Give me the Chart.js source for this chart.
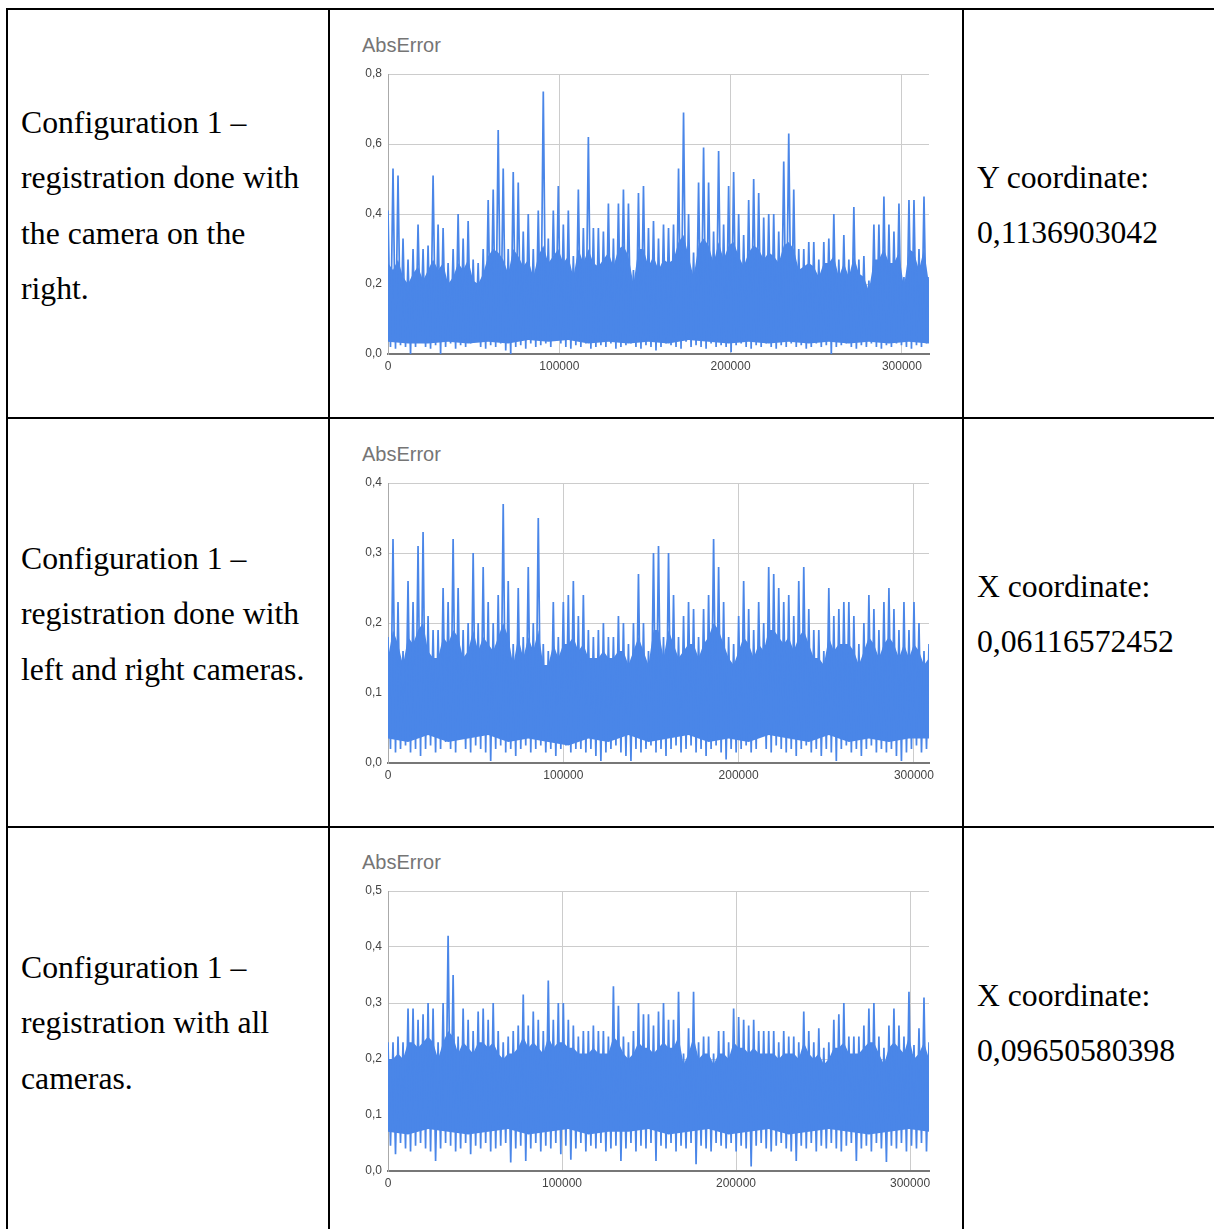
<!DOCTYPE html>
<html>
<head>
<meta charset="utf-8">
<script src="https://cdn.jsdelivr.net/npm/chart.js@4.4.1/dist/chart.umd.min.js"></script>
<style>
  html, body { margin: 0; padding: 0; background: #fff; }
  body { width: 1214px; height: 1229px; position: relative; overflow: hidden; }
  .hl { position: absolute; left: 6px; width: 1220px; height: 2px; background: #000; }
  .vl { position: absolute; top: 8px; width: 2px; height: 1230px; background: #000; }
  .txt { position: absolute; font-family: "Liberation Serif", "Times New Roman", serif;
         font-size: 31.7px; line-height: 55.3px; color: #000; white-space: nowrap; }
  .ttl { position: absolute; left: 362px; font-family: "Liberation Sans", Arial, sans-serif;
         font-size: 20px; line-height: 20px; color: #757575; }
  canvas { position: absolute; left: 330px; }
</style>
</head>
<body>
<div class="hl" style="top:8px"></div>
<div class="hl" style="top:417px"></div>
<div class="hl" style="top:826px"></div>
<div class="vl" style="left:6px"></div>
<div class="vl" style="left:328px"></div>
<div class="vl" style="left:962px"></div>

<div class="txt" style="left:21px;top:95px">Configuration 1 –<br>registration done with<br>the camera on the<br>right.</div>
<div class="txt" style="left:977px;top:150px">Y coordinate:<br>0,1136903042</div>
<div class="txt" style="left:21px;top:531px">Configuration 1 –<br>registration done with<br>left and right cameras.</div>
<div class="txt" style="left:977px;top:559px">X coordinate:<br>0,06116572452</div>
<div class="txt" style="left:21px;top:940px">Configuration 1 –<br>registration with all<br>cameras.</div>
<div class="txt" style="left:977px;top:968px">X coordinate:<br>0,09650580398</div>

<div class="ttl" style="top:35px">AbsError</div>
<div class="ttl" style="top:444px">AbsError</div>
<div class="ttl" style="top:852px">AbsError</div>

<canvas id="c1" width="632" height="380" style="top:10px"></canvas>
<canvas id="c2" width="632" height="380" style="top:419px"></canvas>
<canvas id="c3" width="632" height="380" style="top:827px"></canvas>

<script>
// x ticks (sample number) and last sample of each series
const xTicks = [0, 100000, 200000, 300000];
const xMax1 = 315800;
const xMax2 = 308600;
const xMax3 = 310900;

const yTicks1 = [0, 0.2, 0.4, 0.6, 0.8];
const yTicks2 = [0, 0.1, 0.2, 0.3, 0.4];
const yTicks3 = [0, 0.1, 0.2, 0.3, 0.4, 0.5];

// chart 1 - camera on the right: peak of each stretch, the dip after it,
// and the level up to which the stretch is solid
const peaks1 = [
  0.41,0.53,0.51,0.33,0.27,0.30,0.37,0.30,0.31,0.51,
  0.37,0.36,0.26,0.30,0.40,0.33,0.38,0.27,0.26,0.30,
  0.44,0.47,0.64,0.53,0.30,0.52,0.49,0.35,0.40,0.30,
  0.41,0.75,0.33,0.41,0.48,0.37,0.41,0.28,0.47,0.36,
  0.62,0.36,0.36,0.35,0.43,0.33,0.43,0.47,0.43,0.24,
  0.46,0.48,0.36,0.38,0.33,0.37,0.36,0.37,0.53,0.69,
  0.40,0.29,0.49,0.59,0.49,0.35,0.58,0.37,0.48,0.52,
  0.40,0.34,0.44,0.50,0.46,0.39,0.40,0.40,0.35,0.55,
  0.63,0.47,0.30,0.30,0.32,0.32,0.27,0.32,0.33,0.40,
  0.27,0.34,0.27,0.42,0.27,0.28,0.21,0.37,0.37,0.45,
  0.37,0.35,0.43,0.22,0.44,0.44,0.30,0.45,0.22
];
const floors1 = [
  0.02,0.015,0.025,0.02,0.0,0.02,0.05,0.02,0.015,0.025,
  0.0,0.02,0.03,0.015,0.025,0.02,0.03,0.045,0.02,0.015,
  0.025,0.02,0.03,0.01,0.0,0.02,0.025,0.015,0.03,0.02,
  0.025,0.03,0.02,0.07,0.03,0.02,0.015,0.025,0.02,0.03,
  0.015,0.02,0.025,0.02,0.03,0.015,0.02,0.025,0.03,0.02,
  0.015,0.025,0.02,0.01,0.02,0.03,0.025,0.02,0.015,0.035,
  0.02,0.025,0.02,0.015,0.03,0.02,0.025,0.02,0.005,0.025,
  0.03,0.02,0.015,0.025,0.02,0.03,0.02,0.015,0.025,0.02,
  0.03,0.02,0.025,0.015,0.02,0.03,0.02,0.025,0.0,0.02,
  0.025,0.03,0.02,0.015,0.025,0.02,0.03,0.02,0.015,0.025,
  0.02,0.03,0.025,0.02,0.015,0.025,0.02,0.03
];
const bodyTop1 = [
  0.26,0.24,0.27,0.22,0.20,0.23,0.25,0.21,0.24,0.27,
  0.24,0.26,0.20,0.22,0.26,0.24,0.27,0.21,0.20,0.23,
  0.28,0.30,0.29,0.27,0.23,0.30,0.28,0.25,0.27,0.22,
  0.28,0.31,0.26,0.28,0.30,0.26,0.28,0.22,0.30,0.26,
  0.30,0.26,0.25,0.27,0.29,0.25,0.30,0.31,0.28,0.20,
  0.30,0.30,0.25,0.28,0.24,0.27,0.26,0.27,0.32,0.34,
  0.28,0.22,0.31,0.33,0.31,0.26,0.32,0.27,0.31,0.32,
  0.28,0.25,0.29,0.31,0.30,0.27,0.29,0.28,0.26,0.31,
  0.32,0.30,0.24,0.25,0.26,0.25,0.22,0.26,0.26,0.28,
  0.22,0.26,0.22,0.28,0.23,0.22,0.18,0.27,0.27,0.30,
  0.26,0.26,0.29,0.19,0.30,0.29,0.24,0.30,0.20
];
const bodyLow1 = [0.035,0.03,0.03,0.035,0.03,0.035,0.03,0.04,0.035,0.04,0.03,0.035,0.03,0.035,
                  0.03,0.04,0.035,0.03,0.035,0.03,0.035,0.03,0.035,0.03,0.035,0.03,0.035,0.03];

// chart 2 - left and right cameras
const peaks2 = [
  0.18,0.32,0.23,0.16,0.26,0.23,0.31,0.33,0.21,0.19,
  0.19,0.25,0.23,0.32,0.25,0.19,0.20,0.30,0.20,0.28,
  0.23,0.20,0.24,0.37,0.26,0.17,0.25,0.18,0.28,0.20,
  0.35,0.17,0.16,0.23,0.18,0.23,0.24,0.26,0.21,0.24,
  0.19,0.18,0.19,0.20,0.18,0.18,0.21,0.20,0.17,0.20,
  0.27,0.20,0.16,0.30,0.31,0.18,0.30,0.24,0.18,0.21,
  0.23,0.22,0.18,0.22,0.24,0.32,0.28,0.23,0.18,0.17,
  0.21,0.26,0.22,0.19,0.23,0.20,0.28,0.27,0.25,0.23,
  0.24,0.21,0.26,0.28,0.22,0.19,0.19,0.16,0.25,0.21,
  0.22,0.23,0.23,0.21,0.17,0.20,0.24,0.22,0.19,0.23,
  0.25,0.22,0.19,0.23,0.19,0.23,0.20,0.16,0.17
];
const floors2 = [
  0.02,0.015,0.02,0.025,0.015,0.02,0.01,0.02,0.025,0.015,
  0.02,0.03,0.02,0.015,0.036,0.02,0.015,0.025,0.02,0.015,
  0.003,0.02,0.025,0.015,0.02,0.01,0.02,0.025,0.015,0.02,
  0.025,0.015,0.02,0.01,0.02,0.025,0.015,0.02,0.02,0.015,
  0.02,0.01,0.003,0.015,0.02,0.025,0.015,0.01,0.003,0.02,
  0.015,0.02,0.025,0.015,0.02,0.01,0.02,0.025,0.015,0.02,
  0.025,0.015,0.02,0.01,0.02,0.025,0.015,0.005,0.02,0.015,
  0.02,0.025,0.015,0.02,0.048,0.02,0.015,0.025,0.02,0.015,
  0.02,0.01,0.02,0.025,0.015,0.02,0.01,0.02,0.015,0.003,
  0.02,0.025,0.015,0.02,0.01,0.02,0.025,0.015,0.02,0.015,
  0.02,0.01,0.003,0.015,0.02,0.025,0.015,0.02
];
const bodyTop2 = [
  0.15,0.19,0.17,0.14,0.18,0.17,0.19,0.20,0.16,0.15,
  0.15,0.18,0.17,0.19,0.18,0.15,0.16,0.19,0.16,0.18,
  0.17,0.16,0.18,0.20,0.18,0.14,0.18,0.15,0.18,0.16,
  0.19,0.14,0.14,0.17,0.15,0.17,0.17,0.18,0.16,0.17,
  0.15,0.15,0.15,0.16,0.15,0.15,0.16,0.16,0.14,0.16,
  0.18,0.16,0.14,0.19,0.19,0.15,0.19,0.17,0.15,0.16,
  0.17,0.17,0.15,0.17,0.18,0.20,0.19,0.17,0.15,0.14,
  0.16,0.18,0.17,0.15,0.17,0.16,0.19,0.19,0.18,0.17,
  0.18,0.16,0.18,0.19,0.17,0.15,0.15,0.14,0.18,0.16,
  0.17,0.17,0.17,0.16,0.14,0.16,0.18,0.17,0.15,0.17,
  0.18,0.17,0.15,0.17,0.15,0.17,0.16,0.14,0.15
];
const bodyLow2 = [0.035,0.03,0.04,0.03,0.035,0.04,0.03,0.035,0.03,0.025,0.035,0.03,0.04,0.03,
                  0.035,0.04,0.03,0.035,0.03,0.04,0.035,0.03,0.04,0.03,0.035,0.03,0.035,0.035];

// chart 3 - all cameras
const peaks3 = [
  0.23,0.23,0.24,0.23,0.29,0.29,0.27,0.28,0.30,0.29,
  0.23,0.30,0.42,0.35,0.24,0.29,0.27,0.25,0.285,0.29,
  0.27,0.30,0.25,0.23,0.24,0.25,0.26,0.315,0.26,0.285,
  0.27,0.25,0.34,0.27,0.30,0.30,0.27,0.26,0.24,0.25,
  0.25,0.26,0.25,0.25,0.24,0.33,0.295,0.24,0.23,0.25,
  0.30,0.28,0.28,0.26,0.285,0.30,0.27,0.27,0.32,0.21,
  0.255,0.32,0.23,0.24,0.24,0.21,0.25,0.25,0.23,0.29,
  0.275,0.27,0.26,0.27,0.25,0.25,0.25,0.25,0.23,0.25,
  0.24,0.24,0.23,0.285,0.25,0.23,0.255,0.22,0.23,0.27,
  0.28,0.30,0.24,0.24,0.24,0.26,0.29,0.30,0.24,0.22,
  0.26,0.29,0.26,0.24,0.32,0.225,0.255,0.31,0.23
];
const floors3 = [
  0.045,0.03,0.05,0.04,0.035,0.045,0.05,0.04,0.035,0.018,
  0.04,0.05,0.045,0.035,0.04,0.05,0.03,0.045,0.04,0.05,
  0.035,0.04,0.045,0.05,0.015,0.04,0.045,0.018,0.04,0.05,
  0.035,0.045,0.04,0.05,0.03,0.045,0.02,0.04,0.05,0.035,
  0.045,0.04,0.05,0.035,0.04,0.045,0.018,0.04,0.05,0.035,
  0.045,0.04,0.05,0.018,0.045,0.04,0.05,0.035,0.045,0.04,
  0.05,0.012,0.045,0.04,0.035,0.05,0.045,0.04,0.05,0.035,
  0.045,0.04,0.008,0.045,0.05,0.04,0.035,0.045,0.05,0.04,
  0.035,0.018,0.045,0.04,0.05,0.035,0.045,0.04,0.05,0.04,
  0.035,0.045,0.05,0.018,0.04,0.045,0.035,0.05,0.04,0.016,
  0.045,0.04,0.05,0.035,0.045,0.04,0.05,0.035
];
const bodyTop3 = [
  0.20,0.20,0.21,0.20,0.23,0.23,0.22,0.23,0.24,0.23,
  0.20,0.23,0.25,0.24,0.21,0.23,0.22,0.21,0.23,0.23,
  0.22,0.23,0.21,0.20,0.21,0.21,0.22,0.24,0.22,0.23,
  0.22,0.21,0.24,0.22,0.23,0.23,0.22,0.22,0.21,0.21,
  0.21,0.22,0.21,0.21,0.21,0.24,0.23,0.21,0.20,0.21,
  0.23,0.22,0.22,0.21,0.22,0.23,0.22,0.22,0.24,0.19,
  0.21,0.24,0.20,0.21,0.21,0.19,0.21,0.21,0.20,0.23,
  0.22,0.22,0.21,0.22,0.21,0.21,0.21,0.21,0.20,0.21,
  0.21,0.21,0.20,0.23,0.21,0.20,0.21,0.19,0.20,0.22,
  0.22,0.23,0.21,0.21,0.21,0.22,0.23,0.23,0.21,0.19,
  0.22,0.23,0.22,0.21,0.24,0.20,0.21,0.23,0.20
];
const bodyLow3 = [0.07,0.065,0.075,0.07,0.065,0.07,0.075,0.065,0.07,0.075,0.065,0.07,0.07,0.075,
                  0.065,0.07,0.075,0.065,0.07,0.075,0.065,0.07,0.075,0.07,0.065,0.07,0.075,0.07];

const BLUE = '#4a86e8';
const tickFont = { family: '"Liberation Sans", Arial, sans-serif', size: 12 };

// peak, then the dip after it, for every stretch of samples
function zigzag(peaks, floors, xMax) {
  const step = xMax / (peaks.length - 1);
  const pts = [];
  peaks.forEach((p, i) => {
    pts.push({ x: i * step, y: p });
    if (i < floors.length) pts.push({ x: (i + 0.5) * step, y: floors[i] });
  });
  return pts;
}

function band(values, xMax) {
  const step = xMax / (values.length - 1);
  return values.map((v, i) => ({ x: i * step, y: v }));
}

function makeChart(id, peaks, floors, top, low, xMax, yTicks) {
  new Chart(document.getElementById(id), {
    type: 'line',
    data: {
      datasets: [
        { data: zigzag(peaks, floors, xMax), borderColor: BLUE, borderWidth: 1.7,
          pointRadius: 0, tension: 0, fill: false },
        { data: band(top, xMax), borderColor: BLUE, borderWidth: 0, backgroundColor: BLUE,
          pointRadius: 0, tension: 0, fill: '+1' },
        { data: band(low, xMax), borderColor: BLUE, borderWidth: 0,
          pointRadius: 0, tension: 0, fill: false }
      ]
    },
    options: {
      responsive: false,
      animation: false,
      events: [],
      layout: { padding: { top: 64, right: 33, left: 0, bottom: 0 } },
      plugins: { legend: { display: false }, tooltip: { enabled: false } },
      scales: {
        x: {
          type: 'linear', min: 0, max: xMax,
          afterFit: s => { s.height = 36; },
          afterBuildTicks: s => { s.ticks = xTicks.map(v => ({ value: v })); },
          grid: { color: '#cccccc', drawTicks: false },
          border: { color: '#777777', width: 2 },
          ticks: { padding: 5, color: '#444444', font: tickFont, maxRotation: 0,
                   callback: v => String(v) }
        },
        y: {
          min: 0, max: yTicks[yTicks.length - 1],
          afterFit: s => { s.width = 58; },
          afterBuildTicks: s => { s.ticks = yTicks.map(v => ({ value: v })); },
          grid: { color: '#cccccc', drawTicks: false },
          border: { color: '#aaaaaa', width: 1 },
          ticks: { padding: 6, color: '#444444', font: tickFont,
                   callback: v => v.toFixed(1).replace('.', ',') }
        }
      }
    }
  });
}

makeChart('c1', peaks1, floors1, bodyTop1, bodyLow1, xMax1, yTicks1);
makeChart('c2', peaks2, floors2, bodyTop2, bodyLow2, xMax2, yTicks2);
makeChart('c3', peaks3, floors3, bodyTop3, bodyLow3, xMax3, yTicks3);
</script>
</body>
</html>
